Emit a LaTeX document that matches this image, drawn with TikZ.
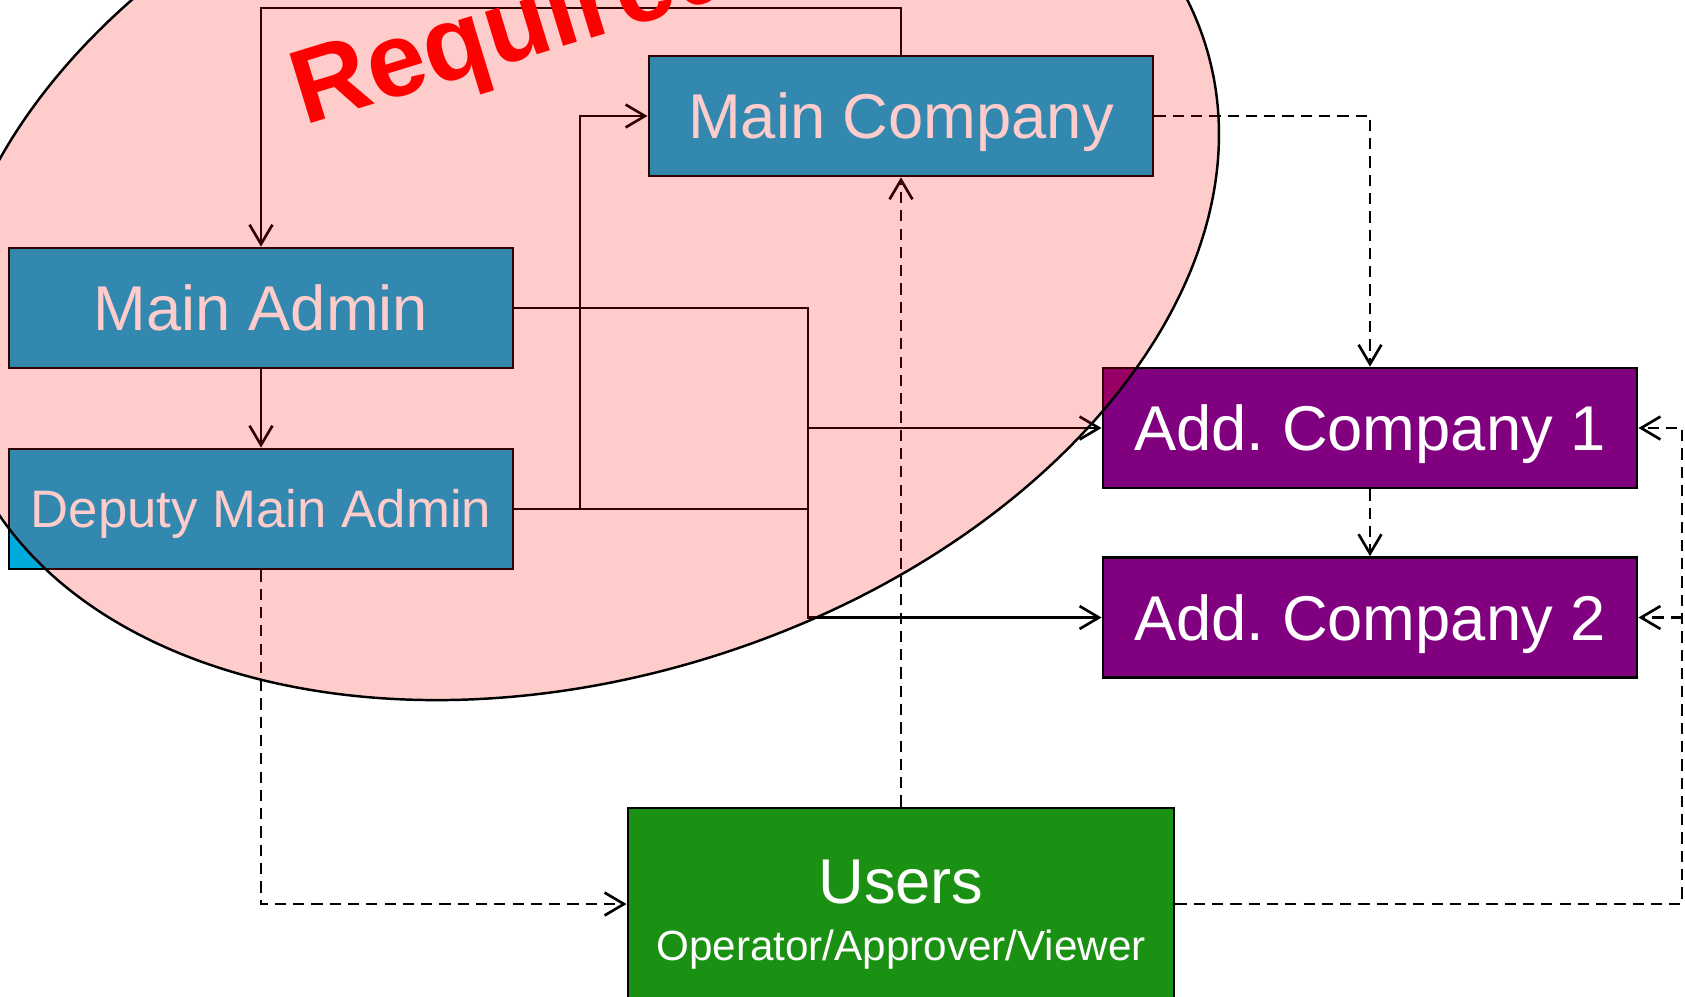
\documentclass[tikz,border=0pt]{standalone}
\usepackage{fontspec}
\setmainfont{Liberation Sans}
\usetikzlibrary{arrows.meta}
\definecolor{tealc}{RGB}{0,170,220}
\definecolor{purpc}{RGB}{128,0,128}
\definecolor{greenc}{RGB}{27,145,19}
\frenchspacing
\begin{document}
\begin{tikzpicture}[x=0.01cm,y=-0.01cm,
  box/.style={draw=black, line width=0.75pt, inner sep=0pt, text=white, minimum height=1.2cm,
    font=\fontsize{18}{21.6}\selectfont, text height=12.9pt, text depth=0pt},
  tealbox/.style={box, fill=tealc, minimum width=5.04cm},
  purpbox/.style={box, fill=purpc, minimum width=5.34cm},
  greenbox/.style={box, fill=greenc, minimum width=5.46cm, minimum height=1.92cm},
  plainline/.style={draw=black, line width=0.75pt},
  conn/.style={plainline, -{Straight Barb[length=5.5pt,width=6.5pt]}},
  dconn/.style={conn, dash pattern=on 3.2pt off 2pt},
  usertext/.style={text=white, anchor=base, inner sep=0pt},
  ovl/.style={fill=red, fill opacity=0.2, draw=black, line width=0.7pt}
]
\useasboundingbox (0,0) rectangle (1685,996);
\clip (0,0) rectangle (1685,996);

% helper coordinates
\coordinate (topy) at (0,8);
\coordinate (x580) at (580,0);
\coordinate (x808) at (808,0);
\coordinate (x1682) at (1682,0);

% boxes
\node[tealbox] (mc) at (901,116) {Main Company};
\node[tealbox] (ma) at (261,308) {Main Admin};
\node[tealbox, font=\fontsize{15}{18}\selectfont, text height=10.74pt] (dma) at (261,509) {Deputy Main Admin};
\node[purpbox] (ac1) at (1370,428) {Add. Company 1};
\node[purpbox] (ac2) at (1370,617.5) {Add. Company 2};
\node[greenbox] (users) at (901,904) {};
\node[usertext, font=\fontsize{18}{21.6}\selectfont] (ut) at (901,903) {Users};
\node[usertext, font=\fontsize{12}{14.4}\selectfont] (us) at (901,960) {Operator/Approver/Viewer};

% solid connectors
\draw[conn] (mc.north) -- (mc.north |- topy) -| (ma.north);
\draw[conn] (ma.south) -- (dma.north);
\draw[conn] (dma.east) -- (dma.east -| x580) -- (x580 |- mc.west) -- (mc.west);
\draw[conn] (ma.east) -- (ma.east -| x808) -- (x808 |- ac2.west) -- (ac2.west);
\draw[conn] (x808 |- ac1.west) -- (ac1.west);
\draw[plainline] (dma.east) -- (dma.east -| x808);

% dashed connectors
\draw[dconn] (mc.east) -| (ac1.north);
\draw[dconn] (ac1.south) -- (ac2.north);
\draw[dconn] (users.north) -- (mc.south);
\draw[dconn] (dma.south) |- (users.west);
\draw[dconn] (users.east) -- (users.east -| x1682) -- (x1682 |- ac1.east) -- (ac1.east);
\draw[dconn] (x1682 |- ac2.east) -- (ac2.east);

% translucent ellipse
\draw[ovl, rotate around={17.5:(583,240)}] (583,240) ellipse [x radius=6.52cm, y radius=4.36cm];

% label
\node[rotate=17, anchor=base west, text=red, inner sep=0pt,
  font=\bfseries\fontsize{30}{36}\selectfont] (req) at (304,126) {Required};
\end{tikzpicture}
\end{document}
